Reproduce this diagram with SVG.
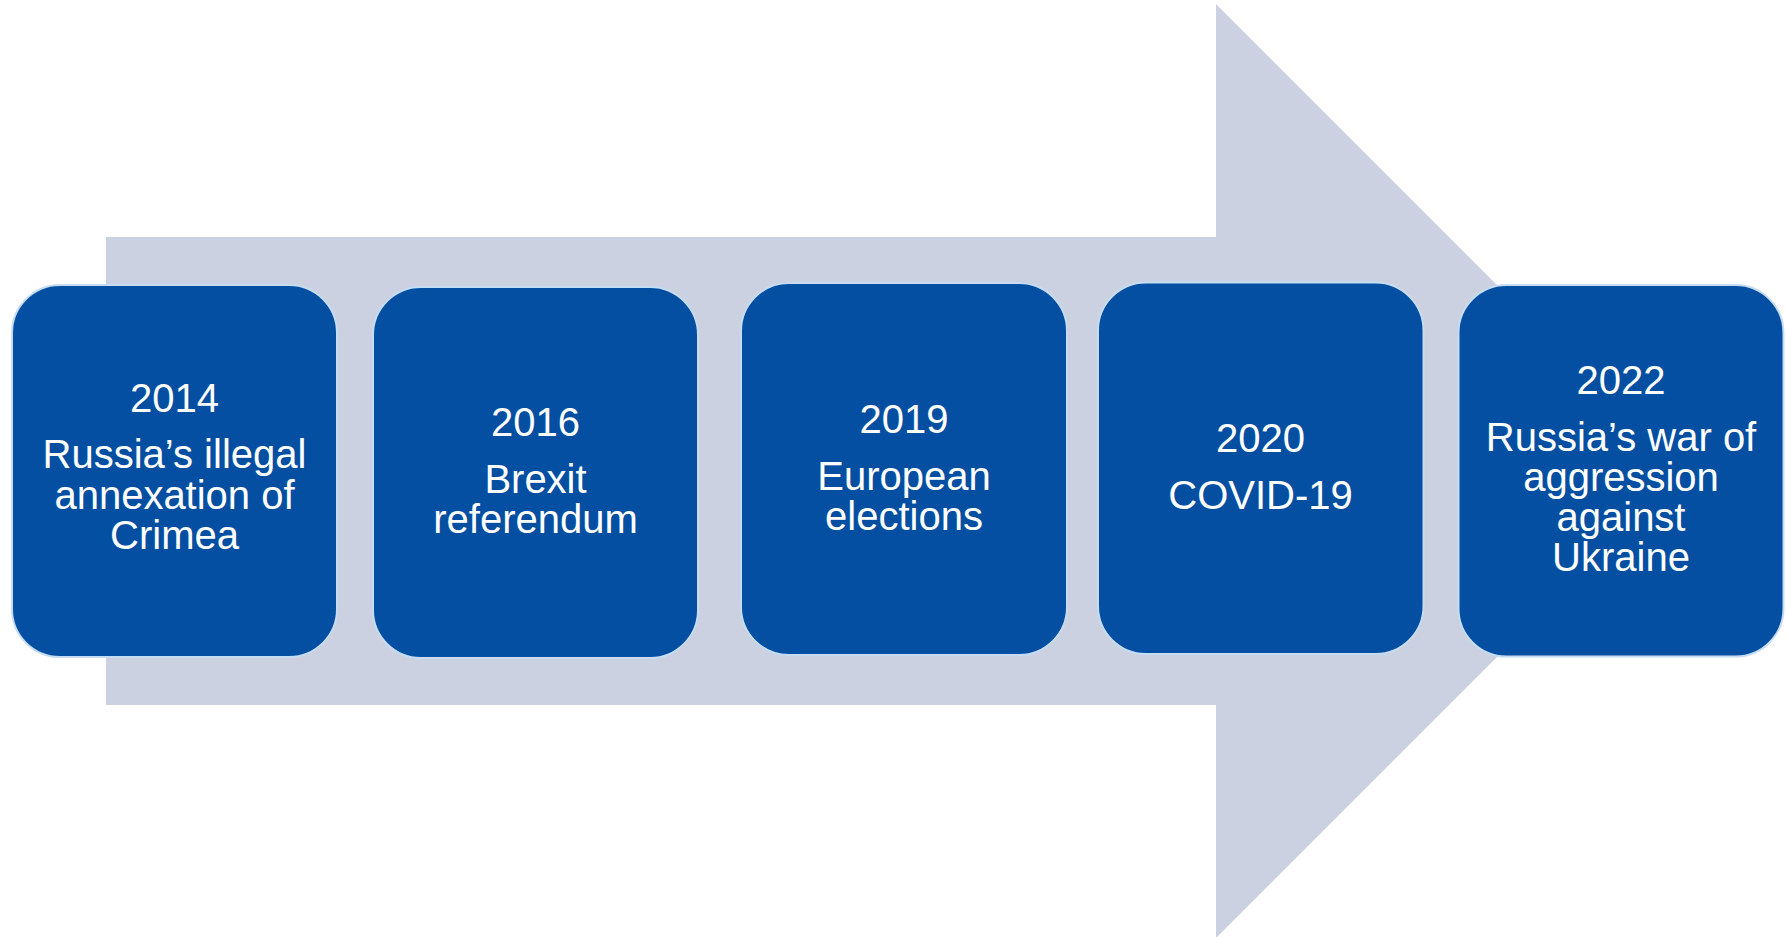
<svg xmlns="http://www.w3.org/2000/svg" width="1787" height="937" viewBox="0 0 1787 937">
<style>
.box{fill:#044fa2;stroke:#c6dcf2;stroke-width:2}
.t{fill:#ffffff;font-family:"Liberation Sans",Arial,sans-serif;font-size:40px;text-anchor:middle}
</style>
<rect width="1787" height="937" fill="#ffffff"/>
<g id="connectors">
<polygon id="timeline-arrow" points="106,237 1216,237 1216,4 1683,471 1216,938 1216,705 106,705" fill="#cbd1e1"/>
</g>
<g id="node-2014">
<rect class="box" x="12" y="285" width="325" height="372" rx="48" ry="48"/>
<text class="t" x="174.5" y="412">2014</text>
<text class="t" x="174.5" y="468">Russia’s illegal</text>
<text class="t" x="174.5" y="508.5">annexation of</text>
<text class="t" x="174.5" y="549">Crimea</text>
</g>
<g id="node-2016">
<rect class="box" x="373" y="287" width="325" height="371" rx="48" ry="48"/>
<text class="t" x="535.5" y="436">2016</text>
<text class="t" x="535.5" y="492.5">Brexit</text>
<text class="t" x="535.5" y="533">referendum</text>
</g>
<g id="node-2019">
<rect class="box" x="741" y="283" width="326" height="372" rx="48" ry="48"/>
<text class="t" x="904" y="433">2019</text>
<text class="t" x="904" y="490">European</text>
<text class="t" x="904" y="530">elections</text>
</g>
<g id="node-2020">
<rect class="box" x="1098" y="282.5" width="325.5" height="371.5" rx="48" ry="48"/>
<text class="t" x="1260.5" y="451.5">2020</text>
<text class="t" x="1260.5" y="508.5">COVID-19</text>
</g>
<g id="node-2022">
<rect class="box" x="1458.5" y="285" width="325" height="371.5" rx="48" ry="48"/>
<text class="t" x="1621" y="393.5">2022</text>
<text class="t" x="1621" y="451">Russia’s war of</text>
<text class="t" x="1621" y="490.5">aggression</text>
<text class="t" x="1621" y="530.5">against</text>
<text class="t" x="1621" y="571">Ukraine</text>
</g>
</svg>
